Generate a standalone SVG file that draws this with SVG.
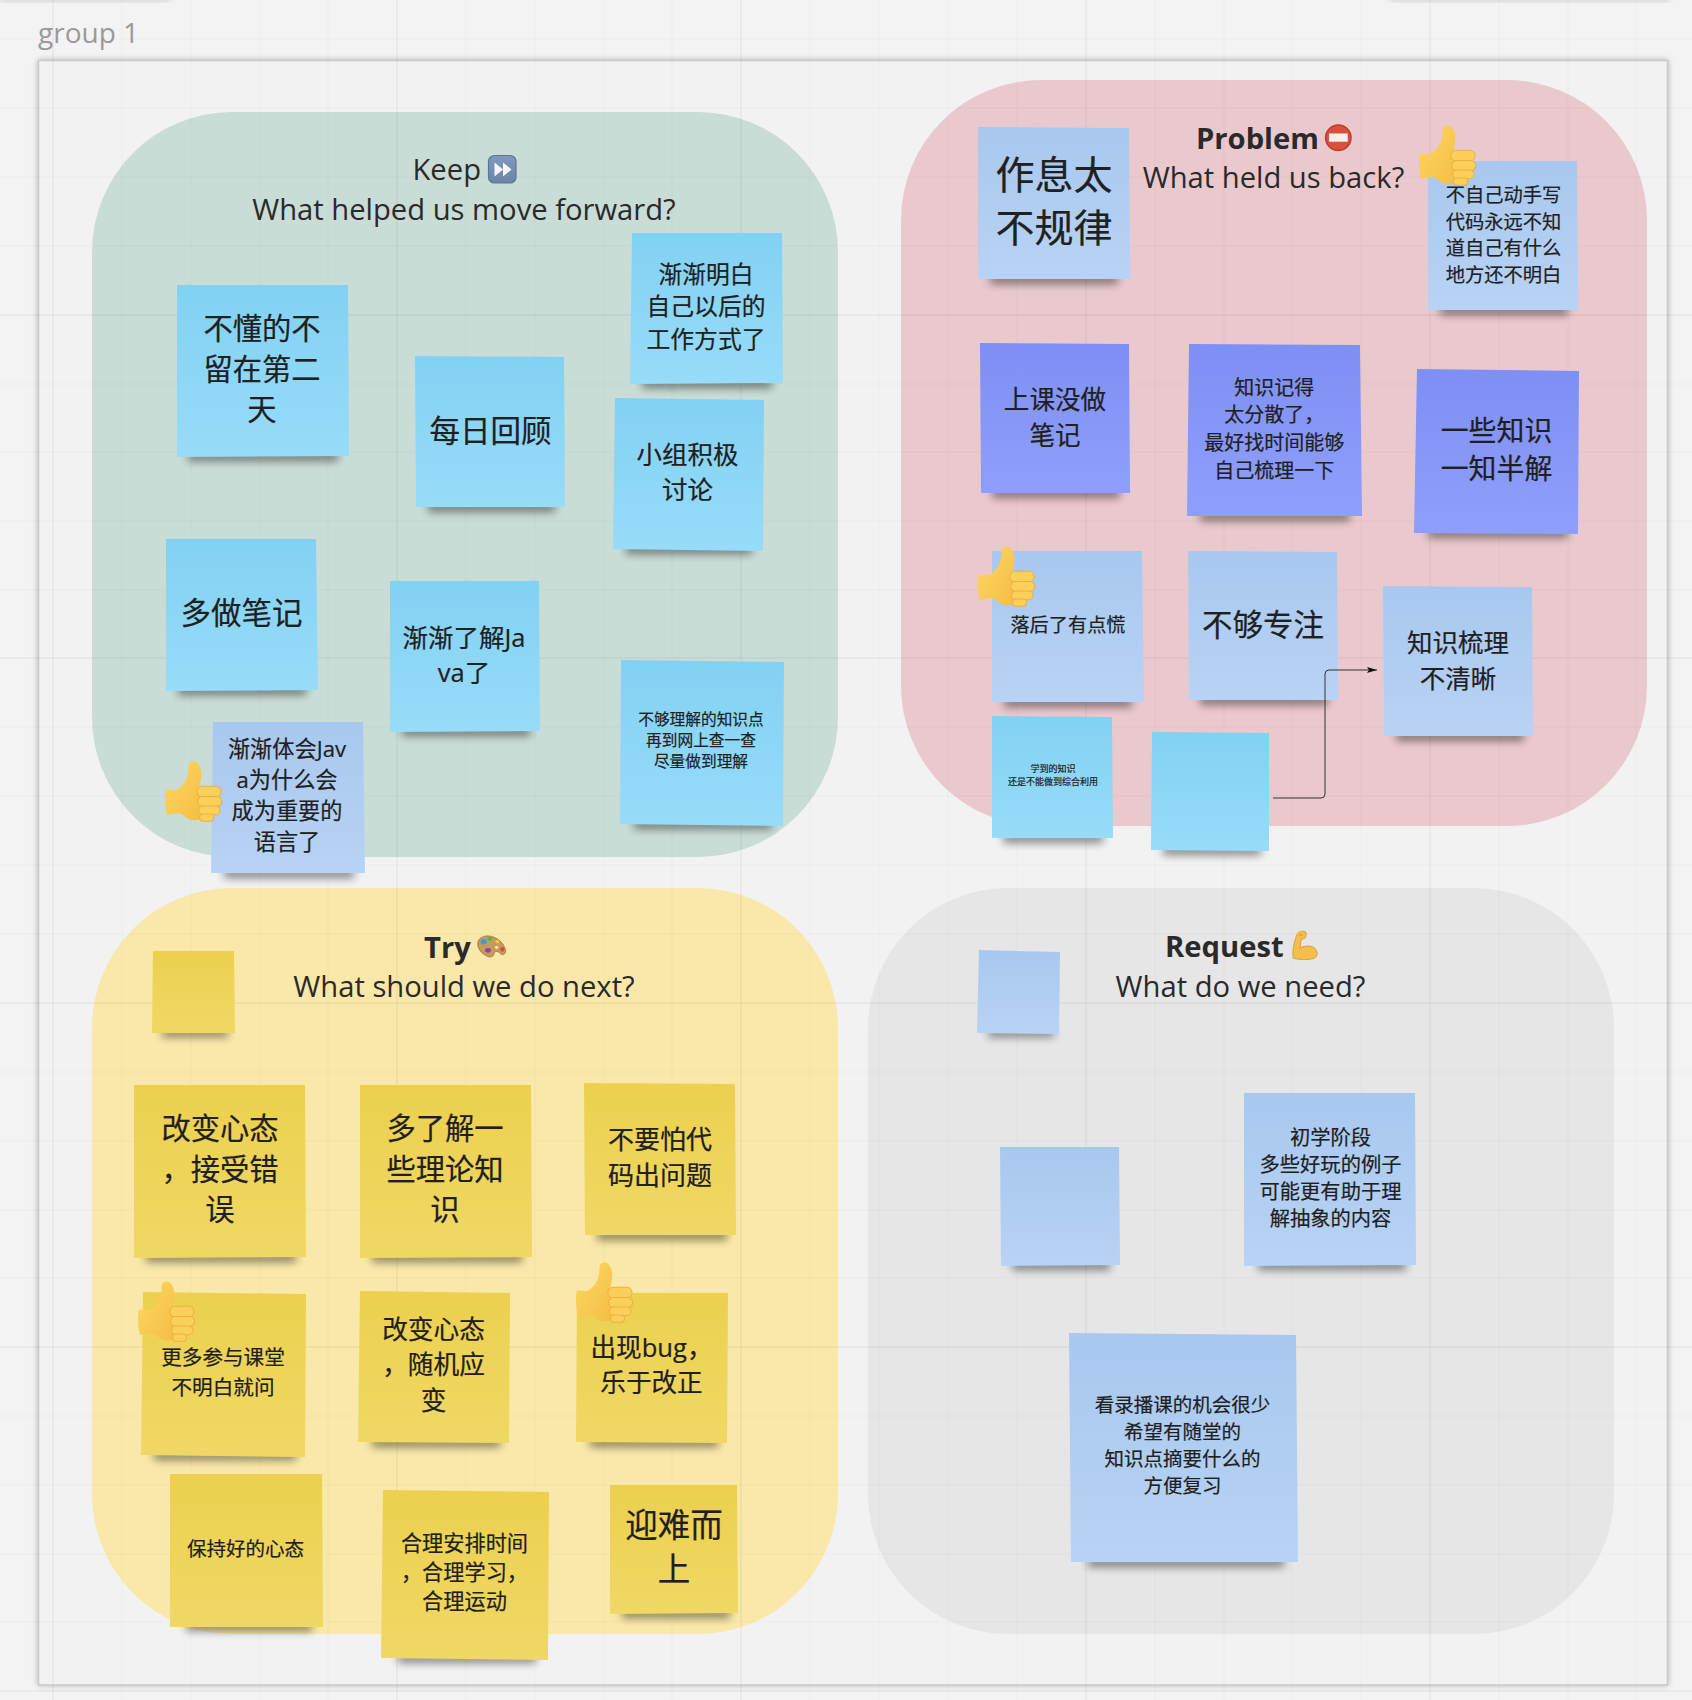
<svg xmlns="http://www.w3.org/2000/svg" width="1692" height="1700" viewBox="0 0 1692 1700">
<style>
.note text{font-family:"Open Sans","Noto Sans CJK SC","Noto Sans",sans-serif;fill:#202020;stroke:#202020;stroke-width:.2;text-anchor:middle}
.head{font-family:"Open Sans","Noto Sans",sans-serif;font-size:29.2px;fill:#2a2a2a}
.b{font-weight:700}
.m{text-anchor:middle}
.sh{fill:#000;opacity:.46;filter:url(#blur);transform:translateY(2px)}
.blue{fill:url(#gBlue)}.pale{fill:url(#gPale)}.ind{fill:url(#gInd)}.yel{fill:url(#gYel)}
.grid line{stroke:#000;stroke-opacity:.025;stroke-width:1}
.grid .maj{stroke-opacity:.05;stroke-width:1.5}
.fg{fill:#fbd05a;stroke:#edb043;stroke-width:3}
</style>
<defs>
<filter id="blur" x="-30%" y="-200%" width="160%" height="500%"><feGaussianBlur stdDeviation="4"/></filter>
<filter id="fs" x="-5%" y="-5%" width="110%" height="110%"><feGaussianBlur stdDeviation="3"/></filter>
<linearGradient id="gBlue" x1="0" y1="0" x2="0" y2="1"><stop offset="0" stop-color="#82d1f3"/><stop offset="1" stop-color="#97dcf9"/></linearGradient>
<linearGradient id="gPale" x1="0" y1="0" x2="0" y2="1"><stop offset="0" stop-color="#a9c8ef"/><stop offset="1" stop-color="#b7d3f5"/></linearGradient>
<linearGradient id="gInd" x1="0" y1="0" x2="0" y2="1"><stop offset="0" stop-color="#7e8ff5"/><stop offset="1" stop-color="#8e9ffb"/></linearGradient>
<linearGradient id="gYel" x1="0" y1="0" x2="0" y2="1"><stop offset="0" stop-color="#ecd04e"/><stop offset="1" stop-color="#f0d865"/></linearGradient>
<linearGradient id="gTh" x1="0" y1="0" x2="1" y2="1"><stop offset="0" stop-color="#fdd95f"/><stop offset="1" stop-color="#f5bd46"/></linearGradient>
<linearGradient id="gFf" x1="0" y1="0" x2="0" y2="1"><stop offset="0" stop-color="#7f9abd"/><stop offset="1" stop-color="#6a85a9"/></linearGradient>
<marker id="arr" markerWidth="11" markerHeight="8" refX="10" refY="3" orient="auto" markerUnits="userSpaceOnUse"><path d="M0 0L10 3L0 6L2 3Z" fill="#111"/></marker>
<symbol id="thumb" viewBox="28 28 168 182" overflow="visible">
<path d="M30 116C42 112 56 120 68 112C86 100 98 78 97 50C96 36 108 28 120 34C132 42 138 62 134 84C132 96 130 102 128 108L132 200C118 210 98 206 84 192C72 180 52 186 34 190C28 170 26 136 30 116Z" fill="url(#gTh)"/>
<rect class="fg" x="122" y="105" width="71" height="32" rx="15"/>
<rect class="fg" x="124" y="135" width="71" height="30" rx="15"/>
<rect class="fg" x="127" y="163" width="63" height="26" rx="13"/>
<rect class="fg" x="130" y="187" width="41" height="21" rx="10"/>
</symbol>
</defs>
<rect width="1692" height="1700" fill="#f3f3f3"/>
<g id="bg-shadows" opacity=".5"><rect x="0" y="-8" width="170" height="10" fill="#bbb" filter="url(#fs)"/><rect x="1390" y="-8" width="280" height="10" fill="#bbb" filter="url(#fs)"/></g>
<rect id="frame-shadow" x="38" y="60" width="1630" height="1625" fill="#000" opacity=".28" filter="url(#fs)"/>
<rect id="frame" x="38.500" y="60.500" width="1629" height="1624.500" fill="#f2f2f2" stroke="#c9c9c9" stroke-width="1.500"/>
<text id="frame-label" x="38" y="43" font-family="Open Sans,Noto Sans,sans-serif" font-size="28" fill="#9a9a9a">group 1</text>

<g id="panels">
<rect id="panel-keep" x="92" y="112" width="746" height="745" rx="140" fill="#c9dcd5"/>
<rect id="panel-problem" x="901" y="80" width="746" height="746" rx="140" fill="#eac9ce"/>
<rect id="panel-try" x="92" y="888" width="746" height="746" rx="140" fill="#f9e8a9"/>
<rect id="panel-request" x="868" y="888" width="746" height="746" rx="140" fill="#e6e6e6"/>
</g>
<g class="grid">
<line class="maj" x1="53" y1="0" x2="53" y2="1700"/><line class="maj" x1="397" y1="0" x2="397" y2="1700"/><line class="maj" x1="741" y1="0" x2="741" y2="1700"/><line class="maj" x1="1086" y1="0" x2="1086" y2="1700"/><line class="maj" x1="1430" y1="0" x2="1430" y2="1700"/>
<line class="maj" x1="0" y1="315" x2="1692" y2="315"/><line class="maj" x1="0" y1="658" x2="1692" y2="658"/><line class="maj" x1="0" y1="1003" x2="1692" y2="1003"/><line class="maj" x1="0" y1="1347" x2="1692" y2="1347"/><line class="maj" x1="0" y1="1691" x2="1692" y2="1691"/>
<line x1="122" y1="0" x2="122" y2="1700"/><line x1="191" y1="0" x2="191" y2="1700"/><line x1="260" y1="0" x2="260" y2="1700"/><line x1="328" y1="0" x2="328" y2="1700"/><line x1="466" y1="0" x2="466" y2="1700"/><line x1="535" y1="0" x2="535" y2="1700"/><line x1="604" y1="0" x2="604" y2="1700"/><line x1="672" y1="0" x2="672" y2="1700"/><line x1="810" y1="0" x2="810" y2="1700"/><line x1="879" y1="0" x2="879" y2="1700"/><line x1="948" y1="0" x2="948" y2="1700"/><line x1="1017" y1="0" x2="1017" y2="1700"/><line x1="1155" y1="0" x2="1155" y2="1700"/><line x1="1224" y1="0" x2="1224" y2="1700"/><line x1="1292" y1="0" x2="1292" y2="1700"/><line x1="1361" y1="0" x2="1361" y2="1700"/><line x1="1499" y1="0" x2="1499" y2="1700"/><line x1="1568" y1="0" x2="1568" y2="1700"/><line x1="1636" y1="0" x2="1636" y2="1700"/>
<line x1="0" y1="39" x2="1692" y2="39"/><line x1="0" y1="108" x2="1692" y2="108"/><line x1="0" y1="177" x2="1692" y2="177"/><line x1="0" y1="246" x2="1692" y2="246"/><line x1="0" y1="384" x2="1692" y2="384"/><line x1="0" y1="452" x2="1692" y2="452"/><line x1="0" y1="521" x2="1692" y2="521"/><line x1="0" y1="590" x2="1692" y2="590"/><line x1="0" y1="727" x2="1692" y2="727"/><line x1="0" y1="796" x2="1692" y2="796"/><line x1="0" y1="865" x2="1692" y2="865"/><line x1="0" y1="934" x2="1692" y2="934"/><line x1="0" y1="1072" x2="1692" y2="1072"/><line x1="0" y1="1141" x2="1692" y2="1141"/><line x1="0" y1="1210" x2="1692" y2="1210"/><line x1="0" y1="1278" x2="1692" y2="1278"/><line x1="0" y1="1416" x2="1692" y2="1416"/><line x1="0" y1="1485" x2="1692" y2="1485"/><line x1="0" y1="1554" x2="1692" y2="1554"/><line x1="0" y1="1622" x2="1692" y2="1622"/>
</g>

<g id="title-keep">
<text class="head" x="412.500" y="180">Keep</text>
<rect x="488.500" y="155.500" width="27.500" height="27.500" rx="6" fill="url(#gFf)" stroke="#5b7597" stroke-width="1.200"/>
<path d="M494.500 162.500L503 169.500L494.500 176.500ZM503 162.500L511.500 169.500L503 176.500Z" fill="#f6f8fb"/>
<text class="head m" x="464" y="220">What helped us move forward?</text>
</g>
<g id="title-problem">
<text class="head b" x="1196" y="149">Problem</text>
<circle cx="1338.300" cy="137.700" r="12.700" fill="#d9503f" stroke="#bf3b2d" stroke-width="1.500"/><rect x="1329" y="133.500" width="18.700" height="8.200" fill="#f6f0ec"/>
<text class="head m" x="1273.500" y="188">What held us back?</text>
</g>
<g id="title-try">
<text class="head b" x="424" y="957.500">Try</text>
<g transform="translate(470 925) scale(.3333)">
<path d="M24 50C28 35 50 28 70 36C88 42 100 55 106 72C110 85 100 95 90 85C82 76 72 78 72 88C70 98 55 98 45 90C30 82 20 65 24 50Z" fill="#c79a5b" stroke="#8f6a38" stroke-width="2"/>
<circle cx="80" cy="67" r="5" fill="#f9e8a9"/>
<ellipse cx="41" cy="50" rx="9" ry="8" fill="#3d9bdb"/><ellipse cx="59" cy="41" rx="7" ry="6" fill="#4fb83f"/><ellipse cx="82" cy="50" rx="6" ry="5" fill="#e3cf42"/><ellipse cx="97" cy="73" rx="6" ry="7" fill="#d94a4a"/><ellipse cx="54" cy="76" rx="9" ry="7" fill="#8a45b5"/>
</g>
<text class="head m" x="464" y="997">What should we do next?</text>
</g>
<g id="title-request">
<text class="head b" x="1165" y="957">Request</text>
<g transform="translate(1280 925) scale(.3333)">
<path d="M52 26C58 18 72 16 78 22C80 30 78 40 70 42L64 42L60 70C70 62 90 60 102 68C114 78 116 92 102 100C85 106 55 104 40 100C36 80 42 50 52 26Z" fill="#f4bd4c" stroke="#d8962e" stroke-width="2.500"/>
<path d="M58 30L68 30" stroke="#c9862a" stroke-width="2.500"/>
</g>
<text class="head m" x="1240.500" y="997">What do we need?</text>
</g>

<g id="keep-notes">
<g id="n-budong" class="note"><rect class="sh" x="188" y="450" width="150" height="9"/><polygon class="blue" points="177,285 348,285 349,456 177,457"/><text font-size="29.300" y="339"><tspan x="262">不懂的不</tspan><tspan x="262" dy="40.500">留在第二</tspan><tspan x="262" dy="40.500">天</tspan></text></g>
<g id="n-meiri" class="note"><rect class="sh" x="428" y="501" width="127" height="9"/><polygon class="blue" points="415,356 564,357 565,507 416,507"/><text font-size="30.500" x="490.500" y="442">每日回顾</text></g>
<g id="n-jianjian" class="note"><rect class="sh" x="642" y="377" width="130" height="9"/><polygon class="blue" points="632,233 782,233 783,383 630,384"/><text font-size="23.800" y="282.500"><tspan x="706">渐渐明白</tspan><tspan x="706" dy="32.500">自己以后的</tspan><tspan x="706" dy="32.500">工作方式了</tspan></text></g>
<g id="n-xiaozu" class="note"><rect class="sh" x="626" y="543" width="126" height="9"/><polygon class="blue" points="615,398 764,400 763,551 613,549"/><text font-size="25.500" y="463.500"><tspan x="687.500">小组积极</tspan><tspan x="687.500" dy="35.500">讨论</tspan></text></g>
<g id="n-duozuo" class="note"><rect class="sh" x="178" y="684" width="128" height="9"/><polygon class="blue" points="166,539 316,539 318,690 166,691"/><text font-size="30.500" x="241.500" y="624">多做笔记</text></g>
<g id="n-liaojie" class="note"><rect class="sh" x="402" y="725" width="128" height="9"/><polygon class="blue" points="390,581 539,581 540,731 390,732"/><text font-size="25.500" y="646.500"><tspan x="464">渐渐了解Ja</tspan><tspan x="464" dy="35.500">va了</tspan></text></g>
<g id="n-buggou" class="note"><rect class="sh" x="634" y="818" width="138" height="9"/><polygon class="blue" points="621,660 784,662 783,826 620,824"/><text font-size="15.700" y="724.500"><tspan x="701">不够理解的知识点</tspan><tspan x="701" dy="21">再到网上查一查</tspan><tspan x="701" dy="21">尽量做到理解</tspan></text></g>
<g id="n-tihui" class="note"><rect class="sh" x="224" y="867" width="130" height="9"/><polygon class="pale" points="213,722 363,722 365,873 211,873"/><text font-size="22.200" y="757"><tspan x="287">渐渐体会Jav</tspan><tspan x="287" dy="31.100">a为什么会</tspan><tspan x="287" dy="31.100">成为重要的</tspan><tspan x="287" dy="31.100">语言了</tspan></text></g>
</g>

<g id="problem-notes">
<g id="n-zuoxi" class="note"><rect class="sh" x="990" y="273" width="128" height="9"/><polygon class="pale" points="978,127 1129,128 1130,279 978,279"/><text font-size="39" y="188.700"><tspan x="1054">作息太</tspan><tspan x="1054" dy="53">不规律</tspan></text></g>
<g id="n-dongshou" class="note"><rect class="sh" x="1440" y="304" width="128" height="9"/><polygon class="pale" points="1428,161 1577,161 1578,310 1428,310"/><text font-size="19.300" y="202"><tspan x="1503.500">不自己动手写</tspan><tspan x="1503.500" dy="26.600">代码永远不知</tspan><tspan x="1503.500" dy="26.600">道自己有什么</tspan><tspan x="1503.500" dy="26.600">地方还不明白</tspan></text></g>
<g id="n-shangke" class="note"><rect class="sh" x="992" y="487" width="128" height="9"/><polygon class="ind" points="980,343 1129,344 1130,493 981,493"/><text font-size="25.600" y="408.500"><tspan x="1055">上课没做</tspan><tspan x="1055" dy="36">笔记</tspan></text></g>
<g id="n-jide" class="note"><rect class="sh" x="1200" y="510" width="150" height="9"/><polygon class="ind" points="1189,344 1360,345 1362,516 1187,516"/><text font-size="20" y="394.700"><tspan x="1274.300">知识记得</tspan><tspan x="1274.300" dy="27.600">太分散了，</tspan><tspan x="1274.300" dy="27.600">最好找时间能够</tspan><tspan x="1274.300" dy="27.600">自己梳理一下</tspan></text></g>
<g id="n-yixie" class="note"><rect class="sh" x="1428" y="527" width="140" height="9"/><polygon class="ind" points="1417,369 1579,371 1578,534 1414,533"/><text font-size="27.900" y="440.500"><tspan x="1496.500">一些知识</tspan><tspan x="1496.500" dy="38">一知半解</tspan></text></g>
<g id="n-luohou" class="note"><rect class="sh" x="1004" y="696" width="128" height="9"/><polygon class="pale" points="992,551 1142,551 1144,702 992,702"/><text font-size="19.200" x="1068" y="631.500">落后了有点慌</text></g>
<g id="n-zhuanzhu" class="note"><rect class="sh" x="1200" y="694" width="128" height="9"/><polygon class="pale" points="1188,551 1337,552 1338,700 1189,700"/><text font-size="30.500" x="1263" y="636">不够专注</text></g>
<g id="n-shuli" class="note"><rect class="sh" x="1396" y="730" width="128" height="9"/><polygon class="pale" points="1383,586 1532,587 1533,736 1384,736"/><text font-size="25.500" y="651.500"><tspan x="1458">知识梳理</tspan><tspan x="1458" dy="36">不清晰</tspan></text></g>
<g id="n-xuedao" class="note"><rect class="sh" x="1003" y="832" width="100" height="9"/><polygon class="blue" points="992,716 1112,717 1113,838 992,838"/><text font-size="9" y="772"><tspan x="1053">学到的知识</tspan><tspan x="1053" dy="12.700">还是不能做到综合利用</tspan></text></g>
<g id="n-kong1" class="note"><rect class="sh" x="1163" y="844" width="98" height="9"/><polygon class="blue" points="1152,732 1269,733 1269,851 1151,850"/></g>
</g>

<g id="try-notes">
<g id="n-ykong" class="note"><rect class="sh" x="162" y="1027" width="66" height="8"/><polygon class="yel" points="153,951 234,951 235,1033 152,1033"/></g>
<g id="n-gaibian1" class="note"><rect class="sh" x="146" y="1251" width="150" height="9"/><polygon class="yel" points="134,1085 305,1085 306,1257 134,1258"/><text font-size="29.300" y="1139"><tspan x="220">改变心态</tspan><tspan x="220" dy="40.500">，接受错</tspan><tspan x="220" dy="40.500">误</tspan></text></g>
<g id="n-liaojie2" class="note"><rect class="sh" x="372" y="1251" width="150" height="9"/><polygon class="yel" points="360,1085 531,1085 532,1257 360,1258"/><text font-size="29.300" y="1139"><tspan x="445">多了解一</tspan><tspan x="445" dy="40.500">些理论知</tspan><tspan x="445" dy="40.500">识</tspan></text></g>
<g id="n-buyaopa" class="note"><rect class="sh" x="597" y="1229" width="130" height="9"/><polygon class="yel" points="584,1083 735,1084 736,1235 585,1235"/><text font-size="26" y="1149"><tspan x="660">不要怕代</tspan><tspan x="660" dy="36.300">码出问题</tspan></text></g>
<g id="n-canyu" class="note"><rect class="sh" x="154" y="1449" width="142" height="9"/><polygon class="yel" points="143,1292 306,1294 305,1457 141,1455"/><text font-size="20.600" y="1365"><tspan x="223">更多参与课堂</tspan><tspan x="223" dy="29.600">不明白就问</tspan></text></g>
<g id="n-gaibian2" class="note"><rect class="sh" x="372" y="1436" width="128" height="9"/><polygon class="yel" points="360,1291 510,1293 509,1443 358,1442"/><text font-size="25.700" y="1338.500"><tspan x="433.500">改变心态</tspan><tspan x="433.500" dy="35.700">，随机应</tspan><tspan x="433.500" dy="35.700">变</tspan></text></g>
<g id="n-bug" class="note"><rect class="sh" x="590" y="1436" width="128" height="9"/><polygon class="yel" points="577,1293 728,1293 727,1443 576,1442"/><text font-size="25.600" y="1357"><tspan x="651.500">出现bug，</tspan><tspan x="651.500" dy="34.600">乐于改正</tspan></text></g>
<g id="n-baochi" class="note"><rect class="sh" x="186" y="1620" width="126" height="9"/><polygon class="yel" points="170,1474 322,1474 323,1627 170,1627"/><text font-size="19.500" x="245.500" y="1556">保持好的心态</text></g>
<g id="n-heli" class="note"><rect class="sh" x="398" y="1652" width="138" height="9"/><polygon class="yel" points="383,1490 549,1492 548,1660 381,1658"/><text font-size="21.200" y="1551"><tspan x="464.500">合理安排时间</tspan><tspan x="464.500" dy="29.200">，合理学习，</tspan><tspan x="464.500" dy="29.200">合理运动</tspan></text></g>
<g id="n-yingnan" class="note"><rect class="sh" x="622" y="1607" width="108" height="9"/><polygon class="yel" points="610,1485 737,1485 738,1613 610,1614"/><text font-size="32.500" y="1536.500"><tspan x="674">迎难而</tspan><tspan x="674" dy="44.600">上</tspan></text></g>
</g>

<g id="request-notes">
<g id="n-rkong1" class="note"><rect class="sh" x="988" y="1027" width="66" height="8"/><polygon class="pale" points="979,950 1060,952 1059,1034 977,1033"/></g>
<g id="n-rkong2" class="note"><rect class="sh" x="1012" y="1259" width="98" height="9"/><polygon class="pale" points="1000,1147 1119,1147 1120,1265 1001,1266"/></g>
<g id="n-chuxue" class="note"><rect class="sh" x="1258" y="1259" width="148" height="9"/><polygon class="pale" points="1244,1093 1415,1093 1416,1265 1244,1266"/><text font-size="20.300" y="1144.500"><tspan x="1330.500">初学阶段</tspan><tspan x="1330.500" dy="27.200">多些好玩的例子</tspan><tspan x="1330.500" dy="27.200">可能更有助于理</tspan><tspan x="1330.500" dy="27.200">解抽象的内容</tspan></text></g>
<g id="n-lubo" class="note"><rect class="sh" x="1088" y="1556" width="196" height="9"/><polygon class="pale" points="1069,1333 1296,1335 1298,1562 1071,1562"/><text font-size="19.500" y="1411.800"><tspan x="1182.500">看录播课的机会很少</tspan><tspan x="1182.500" dy="27">希望有随堂的</tspan><tspan x="1182.500" dy="27">知识点摘要什么的</tspan><tspan x="1182.500" dy="27">方便复习</tspan></text></g>
</g>

<g id="connectors">
<path d="M1273 798H1321Q1325 798 1325 794V674Q1325 670 1329 670H1377" fill="none" stroke="#333" stroke-width="1" marker-end="url(#arr)"/>
</g>

<g id="thumbs">
<use href="#thumb" x="165" y="760" width="57" height="62"/>
<use href="#thumb" x="1419" y="124" width="57" height="62"/>
<use href="#thumb" x="978" y="545" width="57" height="62"/>
<use href="#thumb" x="138" y="1280" width="57" height="62"/>
<use href="#thumb" x="576" y="1261" width="57" height="62"/>
</g>
</svg>
